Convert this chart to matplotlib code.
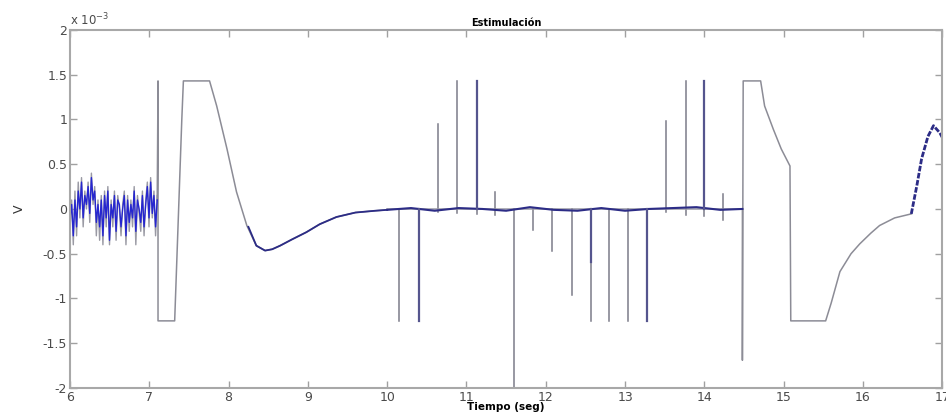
import numpy as np
import matplotlib
matplotlib.use("Agg")
import matplotlib.pyplot as plt

# valores en unidades de 1e-3 V
# ruido inicial (6 - 7.1 s), muestras leidas a mano
ruido_v = [-0.1, 0.05, -0.3, 0.1, -0.2, 0.2, 0.0, 0.3, -0.1, 0.15, 0.05, 0.25,
           -0.05, 0.35, 0.1, 0.2, -0.15, 0.05, -0.2, 0.1, -0.3, 0.15, -0.1, 0.2,
           -0.35, 0.05, -0.1, 0.15, -0.25, 0.1, 0.05, -0.2, 0.0, 0.15, -0.3, 0.1,
           -0.15, 0.05, -0.1, 0.2, -0.25, 0.1, 0.0, -0.15, 0.15, -0.2, 0.05, 0.25,
           -0.1, 0.3, -0.05, 0.15, -0.2, 0.1]
ruido_gris = [-0.2, 0.1, -0.4, 0.2, -0.3, 0.3, -0.1, 0.35, -0.2, 0.2, 0.0, 0.3,
              -0.15, 0.4, 0.05, 0.25, -0.3, 0.1, -0.35, 0.15, -0.4, 0.2, -0.2, 0.25,
              -0.4, 0.1, -0.2, 0.2, -0.35, 0.15, 0.0, -0.3, 0.05, 0.2, -0.4, 0.15,
              -0.25, 0.1, -0.2, 0.25, -0.4, 0.15, -0.05, -0.25, 0.2, -0.3, 0.1, 0.3,
              -0.2, 0.35, -0.1, 0.2, -0.3, 0.15]

# estimulo 1 (gris)
est1_t = [7.10, 7.11, 7.11, 7.32, 7.41, 7.43, 7.76, 7.85, 7.98, 8.10, 8.23, 8.35,
          8.46, 8.55, 8.65, 8.80, 8.98, 9.15, 9.36, 9.60, 9.85, 10.0]
est1_v = [0.1, 1.43, -1.25, -1.25, 1.0, 1.43, 1.43, 1.15, 0.67, 0.19, -0.185, -0.41,
          -0.465, -0.45, -0.41, -0.34, -0.26, -0.17, -0.09, -0.04, -0.02, -0.01]

# picos entre 10 y 14.5 s: tiempo, valor principal, rebote
pico_t = [10.15, 10.40, 10.64, 10.88, 11.13, 11.36, 11.60, 11.84, 12.08, 12.33,
          12.57, 12.80, 13.04, 13.28, 13.52, 13.77, 14.00, 14.24]
pico_v = [-1.25, -1.25, 0.95, 1.43, 1.43, 0.19, -2.3, -0.24, -0.47, -0.96,
          -1.25, -1.25, -1.25, -1.25, 0.98, 1.43, 1.43, 0.17]
pico_reb = [0.0, 0.0, -0.03, -0.05, -0.06, -0.07, 0.0, 0.0, 0.0, 0.0,
            0.0, 0.0, 0.0, 0.0, -0.03, -0.07, -0.08, -0.12]
# picos que tambien aparecen en la senal azul
pico_azul_t = [10.40, 11.13, 12.57, 13.28, 14.00]
pico_azul_v = [-1.25, 1.43, -0.59, -1.25, 1.43]

# estimulo 2 (gris)
est2_t = [14.48, 14.48, 14.49, 14.71, 14.76, 14.87, 14.97, 15.08, 15.09, 15.53,
          15.60, 15.71, 15.85, 15.96, 16.10, 16.21, 16.40, 16.61]
est2_v = [0.0, -1.69, 1.43, 1.43, 1.15, 0.89, 0.67, 0.48, -1.25, -1.25,
          -1.05, -0.70, -0.50, -0.39, -0.27, -0.185, -0.10, -0.055]

# senal azul
azul1_t = [8.25, 8.35, 8.46, 8.55, 8.65, 8.80, 8.98, 9.15, 9.36, 9.60, 9.85, 10.0]
azul1_v = [-0.2, -0.41, -0.465, -0.45, -0.41, -0.34, -0.26, -0.17, -0.09, -0.04, -0.02, -0.01]
plano_t = [10.0, 10.3, 10.6, 10.9, 11.2, 11.5, 11.8, 12.1, 12.4, 12.7, 13.0,
           13.3, 13.6, 13.9, 14.2, 14.48]
plano_v = [-0.01, 0.01, -0.02, 0.01, 0.0, -0.02, 0.02, -0.01, -0.02, 0.01, -0.02,
           0.0, 0.01, 0.02, -0.01, 0.0]
azul2_t = [16.61, 16.68, 16.74, 16.82, 16.89, 16.97, 17.0]
azul2_v = [-0.055, 0.26, 0.56, 0.81, 0.93, 0.85, 0.80]

gris = '#9a9aa4'
azul = '#2626d0'
marino = '#2c2c86'

fig = plt.figure(figsize=(9.46, 4.15), dpi=100)
ax = fig.add_axes([0.074, 0.065, 0.922, 0.863])

t_ruido = np.linspace(6.0, 7.1, len(ruido_v))
ax.plot(t_ruido, ruido_gris, color=gris, lw=1)
ax.plot(est1_t, est1_v, color='#8c8c96', lw=1.1)

# base plana con picos grises
pt, pv = [10.0], [0.0]
for t, v, r in zip(pico_t, pico_v, pico_reb):
    pt += [t, t, t, t]
    pv += [0.0, v, r, 0.0]
pt.append(14.48)
pv.append(0.0)
ax.plot(pt, pv, color=gris, lw=1.1)
ax.plot(est2_t, est2_v, color='#8c8c96', lw=1.1)

ax.plot(t_ruido, ruido_v, color=azul, lw=1)
ax.plot(azul1_t, azul1_v, color=marino, lw=1.3)
ax.plot(plano_t, plano_v, color=marino, lw=1.5)
for t, v in zip(pico_azul_t, pico_azul_v):
    ax.plot([t, t], [0, v], color='#55558e', lw=1.6)
ax.plot(azul2_t, azul2_v, color=marino, lw=2, ls=(0, (2, 0.6)))

ax.set_xlim(6, 17)
ax.set_ylim(-2, 2)
ax.set_xticks(range(6, 18))
yt = [-2, -1.5, -1, -0.5, 0, 0.5, 1, 1.5, 2]
ax.set_yticks(yt)
ax.set_yticklabels(['%g' % v for v in yt])

for s in ax.spines.values():
    s.set_color('#a8a8a8')
    s.set_linewidth(1.5)
ax.tick_params(direction='in', top=True, right=True, length=5, width=1,
               color='#a0a0a0', labelsize=9, labelcolor='#4a4a4a', pad=2)

ax.text(0.0, 1.005, r'x 10$^{-3}$', transform=ax.transAxes, ha='left',
        va='bottom', fontsize=8.5, color='#4a4a4a')
ax.set_title('Estimulación', fontsize=7, fontweight='bold', pad=3)
ax.set_xlabel('Tiempo (seg)', fontsize=7.5, fontweight='bold', labelpad=-1)
ax.set_ylabel('V', fontsize=9, color='#333333', labelpad=12)

fig.savefig('out.png', dpi=100)
